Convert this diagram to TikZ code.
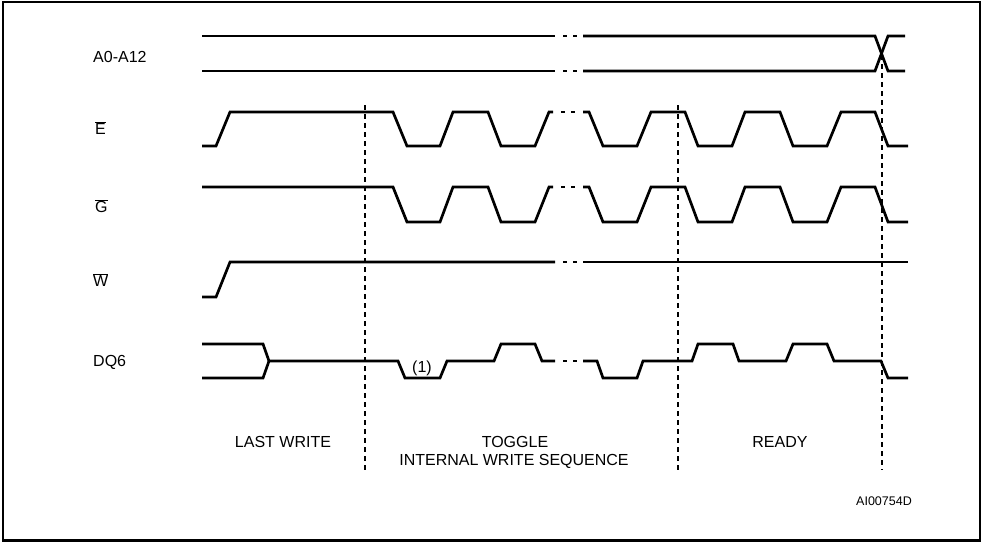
\documentclass[tikz,border=0pt]{standalone}
\usepackage{fontspec}
\setmainfont{Liberation Sans}
\begin{document}
\begin{tikzpicture}[x=1pt,y=-1pt,
  sig/.style={line width=2.7pt,line join=miter,line cap=butt},
  dotseg/.style={line width=2.7pt},
  guide/.style={line width=1.3pt,dash pattern=on 5pt off 4pt},
  frame/.style={line width=2.2pt},
  lbl/.style={font=\fontsize{16}{19}\selectfont,inner sep=0pt},
  lbls/.style={font=\fontsize{12.5}{15}\selectfont,inner sep=0pt}]
\useasboundingbox (0,0) rectangle (983,542);
\draw[frame] (3,2) rectangle (980,540.5);
% A0-A12
\draw[sig] (202,36) -- (555,36);
\draw[sig] (583,36) -- (875,36) -- (888,71) -- (905,71);
\draw[sig] (202,71) -- (555,71);
\draw[sig] (583,71) -- (875,71) -- (888,36) -- (905,36);
\foreach \yy in {36,71}{\draw[dotseg] (563,\yy) -- (567,\yy); \draw[dotseg] (573,\yy) -- (577,\yy);}
% E
\draw[sig] (202,146) -- (216,146) -- (230,112) -- (393,112) -- (407,146) -- (440,146) -- (453,112) -- (488,112) -- (501,146) -- (535,146) -- (549,112) -- (553,112);
\draw[sig] (583,112) -- (589,112) -- (603,146) -- (637,146) -- (651,112) -- (685,112) -- (698,146) -- (732,146) -- (745,112) -- (780,112) -- (793,146) -- (827,146) -- (841,112) -- (875,112) -- (888,146) -- (908,146);
\draw[dotseg] (561,112) -- (565,112); \draw[dotseg] (571,112) -- (575,112);
% G
\draw[sig] (202,187) -- (393,187) -- (407,222) -- (440,222) -- (453,187) -- (488,187) -- (501,222) -- (535,222) -- (549,187) -- (553,187);
\draw[sig] (583,187) -- (589,187) -- (603,222) -- (637,222) -- (651,187) -- (685,187) -- (698,222) -- (732,222) -- (745,187) -- (780,187) -- (793,222) -- (827,222) -- (841,187) -- (875,187) -- (888,222) -- (908,222);
\draw[dotseg] (561,187) -- (565,187); \draw[dotseg] (571,187) -- (575,187);
% W
\draw[sig] (202,297) -- (216,297) -- (230,262) -- (555,262);
\draw[sig] (583,262) -- (908,262);
\draw[dotseg] (563,262) -- (567,262); \draw[dotseg] (573,262) -- (577,262);
% DQ6
\draw[sig] (202,344) -- (263,344) -- (269,361);
\draw[sig] (202,378) -- (263,378) -- (269,361);
\draw[sig] (269,361) -- (398,361) -- (405,378) -- (440,378) -- (447,361) -- (494,361) -- (501,344) -- (535,344) -- (542,361) -- (555,361);
\draw[sig] (583,361) -- (597,361) -- (603,378) -- (637,378) -- (643,361) -- (692,361) -- (698,344) -- (733,344) -- (739,361) -- (786,361) -- (793,344) -- (827,344) -- (834,361) -- (881,361) -- (888,378) -- (908,378);
\draw[dotseg] (563,361) -- (567,361); \draw[dotseg] (573,361) -- (577,361);
% guides
\draw[guide] (365,105) -- (365,473);
\draw[guide] (678,105) -- (678,472);
\draw[guide] (882,55) -- (882,470);
% labels
\node[lbl,anchor=west] (la) at (93,57) {A0-A12};
\node[lbl,anchor=west] (le) at (95,128) {$\overline{\mbox{E}}$};
\node[lbl,anchor=west] (lg) at (95,206) {$\overline{\mbox{G}}$};
\node[lbl,anchor=west] (lw) at (93,280) {$\overline{\mbox{W}}$};
\node[lbl,anchor=west] (ld) at (93,362) {DQ6};
\node[lbl] (n1) at (422,368) {(1)};
\node[lbl] (lastw) at (283,442) {LAST WRITE};
\node[lbl] (tog) at (515,442) {TOGGLE};
\node[lbl] (iws) at (514,461) {INTERNAL WRITE SEQUENCE};
\node[lbl] (rdy) at (780,442) {READY};
\node[lbls] (ref) at (884,501) {AI00754D};
\end{tikzpicture}
\end{document}
